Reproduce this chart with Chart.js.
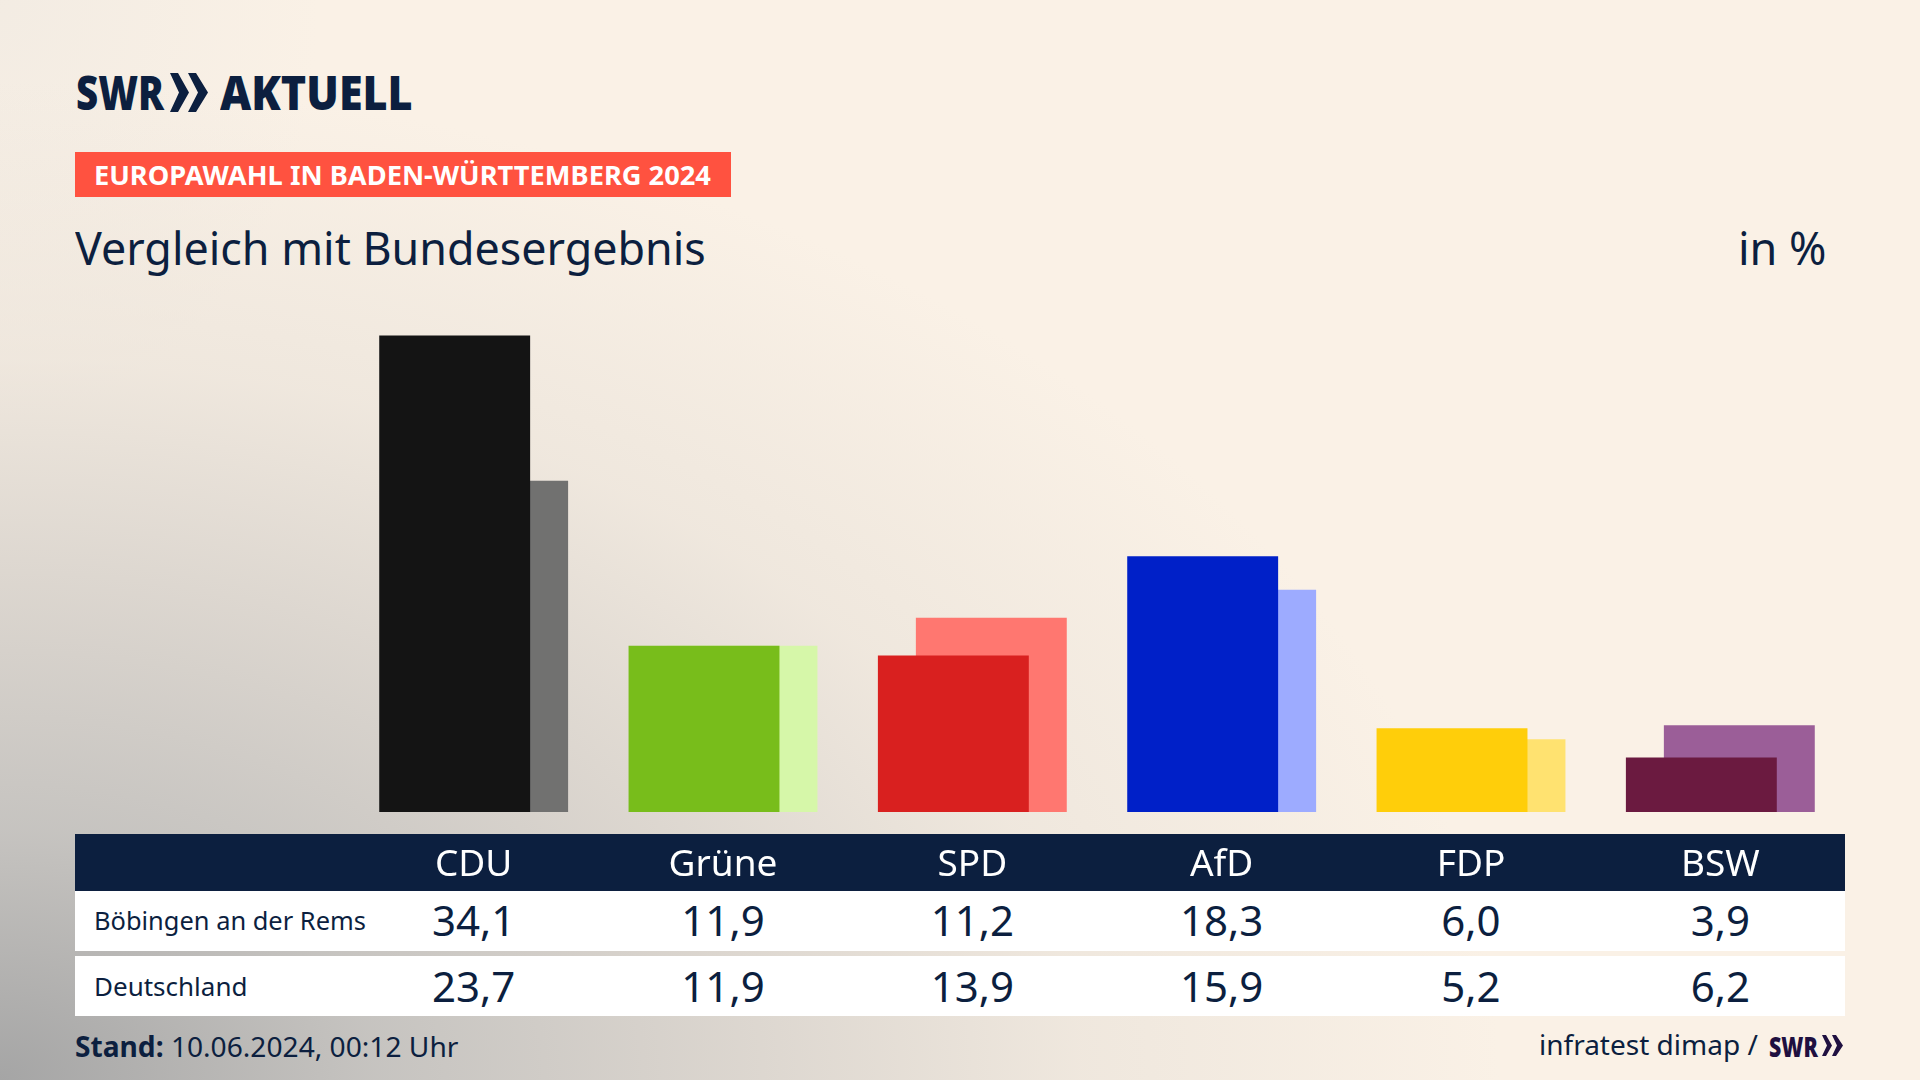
<!DOCTYPE html>
<html lang="de">
<head>
<meta charset="utf-8">
<title>Vergleich mit Bundesergebnis</title>
<script src="https://cdn.jsdelivr.net/npm/chart.js@4"></script>
<style>
html,body{margin:0;padding:0;width:1920px;height:1080px;overflow:hidden;background:#faf1e6;}
body{position:relative;font-family:"Noto Sans",sans-serif;color:#0c1f3f;}
#bg{position:absolute;inset:0;background:
 radial-gradient(ellipse 1500px 1000px at 0px 1080px,rgba(165,165,165,1) 0%,rgba(195,193,190,.95) 25%,rgba(213,208,202,.85) 48%,rgba(232,225,216,.6) 72%,rgba(250,241,230,0) 100%),
 radial-gradient(ellipse 320px 420px at 0px 0px,rgba(232,228,222,.4) 0%,rgba(250,241,230,0) 100%);}
.t{position:absolute;white-space:nowrap;line-height:1;}
#tag{position:absolute;left:75px;top:152px;width:656px;height:45px;background:#ff5240;}
#tagT{left:94px;top:162px;font-size:26px;font-weight:700;color:#fff;transform-origin:0 0;transform:scaleX(1.048);}
#title{left:75px;top:225px;font-size:45px;transform-origin:0 0;transform:scaleX(.996);}
#unit{left:1738px;top:225px;font-size:45px;}
#head{position:absolute;left:75px;top:834px;width:1770px;height:57px;background:#0c1f3f;}
.row{position:absolute;left:75px;width:1770px;height:60px;background:#fff;}
#r1{top:891px;}#r2{top:956px;}
.lab{font-size:26px;left:94px;transform-origin:0 0;}
.val{font-size:42px;transform:translateX(-50%);}
canvas{position:absolute;left:0;top:0;}
#stand{left:75px;top:1032px;font-size:28px;transform-origin:0 0;transform:scaleX(1.005);}
#src{left:1539px;top:1030px;font-size:28px;transform-origin:0 0;}
#logoA{left:76px;top:68px;font-size:48px;font-weight:900;transform-origin:0 0;transform:scaleX(.8);}
#logoB{left:220px;top:68px;font-size:48px;font-weight:900;transform-origin:0 0;transform:scaleX(.897);}
#logoS{left:1769px;top:1032px;font-size:28px;font-weight:900;color:#1f1040;transform-origin:0 0;transform:scaleX(.76);}
svg{position:absolute;}
</style>
</head>
<body>
<div id="bg"></div>
<div class="t" id="logoA">SWR</div>
<svg style="left:170px;top:73px" width="40" height="40" viewBox="0 0 40 40"><path fill="#0c1f3f" d="M0 0h8l11 19.500L8 39H0l9-19.500zM18 0h8l12 19.500L26 39h-8l10-19.500z"/></svg>
<div class="t" id="logoB">AKTUELL</div>
<div id="tag"></div>
<div class="t" id="tagT">EUROPAWAHL IN BADEN-WÜRTTEMBERG 2024</div>
<div class="t" id="title">Vergleich mit Bundesergebnis</div>
<div class="t" id="unit">in %</div>
<div id="head"></div>
<div class="row" id="r1"></div>
<div class="row" id="r2"></div>
<div id="vals"></div>
<div class="t" id="stand"><b>Stand:</b> 10.06.2024, 00:12 Uhr</div>
<div class="t" id="src">infratest dimap /</div>
<div class="t" id="logoS">SWR</div>
<svg style="left:1822px;top:1035px" width="22" height="21" viewBox="0 0 22 21"><path fill="#1f1040" d="M0 0h4l6 10.500L4 21H0l5-10.500zM10 0h4l7 10.500L14 21h-4l5-10.500z"/></svg>
<canvas id="c" width="1920" height="1080"></canvas>
<script>
const categories = ["CDU","Grüne","SPD","AfD","FDP","BSW"];
const localValues = [34.1,11.9,11.2,18.3,6.0,3.9];
const nationalValues = [23.7,11.9,13.9,15.9,5.2,6.2];
const localName = "Böbingen an der Rems";
const nationalName = "Deutschland";
const localColors = ["#141414","#78bd1b","#d9201f","#0020c8","#ffce0a","#6b1a40"];
const nationalColors = ["#717170","#d6f7a9","#ff7770","#9dabff","#ffe270","#9b5e98"];

const chart = new Chart(document.getElementById("c"), {
  type: "bar",
  data: { labels: categories, datasets: [
    { label: localName, data: localValues, backgroundColor: localColors, borderWidth: 0, categoryPercentage: 0.3046, barPercentage: 3.974 },
    { label: nationalName, data: nationalValues, backgroundColor: nationalColors, borderWidth: 0, categoryPercentage: 0.3046, barPercentage: 3.974 }
  ]},
  options: {
    responsive: false, animation: false, devicePixelRatio: 1,
    layout: { padding: { left: 349, right: 75, top: 253, bottom: 0 } },
    plugins: { legend: { display: false }, tooltip: { enabled: false }, title: { display: false } },
    scales: {
      x: { grid: { display: false }, border: { display: false },
        afterFit: s => { s.height = 268; },
        ticks: { color: "#ffffff", padding: 23, maxRotation: 0, autoSkip: false, font: { family: "Noto Sans", size: 37 } } },
      y: { display: false, min: 0, max: 40 }
    }
  }
});

const fmt = v => v.toFixed(1).replace(".", ",");
const wrap = document.getElementById("vals");
function addText(txt, cls, style){ const d=document.createElement("div"); d.className="t "+cls; d.textContent=txt; Object.assign(d.style,style); wrap.appendChild(d); return d; }
addText(localName,"lab",{top:"907px",transform:"scaleX(.978)"});
addText(nationalName,"lab",{top:"973px"});
categories.forEach((c,i)=>{
  const x = chart.scales.x.getPixelForValue(i);
  addText(fmt(localValues[i]),"val",{left:x+"px",top:"899px"});
  addText(fmt(nationalValues[i]),"val",{left:x+"px",top:"965px"});
});
</script>
</body>
</html>
